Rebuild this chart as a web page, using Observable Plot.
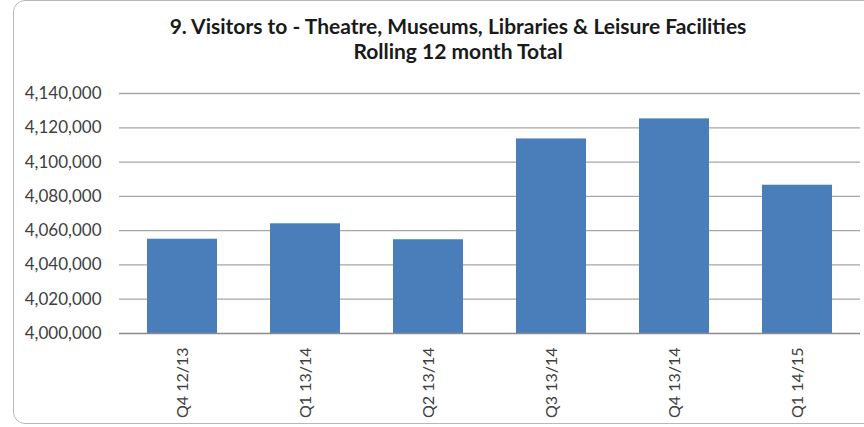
<!DOCTYPE html>
<html>
<head>
<meta charset="utf-8">
<script src="https://cdn.jsdelivr.net/npm/d3@7"></script>
<script src="https://cdn.jsdelivr.net/npm/@observablehq/plot@0.6"></script>
<style>
  html, body { margin: 0; padding: 0; background: #fff; }
  #wrap { position: relative; width: 864px; height: 427px; overflow: hidden; font-family: Lato, "Open Sans", sans-serif; }
  #frame { position: absolute; left: 13px; top: 0px; width: 880px; height: 424px; border: 1px solid #b8b8b8; border-radius: 12px; box-sizing: border-box; }
  #title { position: absolute; left: 0; top: 13px; width: 916px; text-align: center; font-weight: bold; font-size: 21px; line-height: 25px; color: #1a1a1a; }
  #chart { position: absolute; left: 0; top: 0; }
</style>
</head>
<body>
<div id="wrap">
  <div id="frame"></div>
  <div id="title">9. Visitors to - Theatre, Museums, Libraries &amp; Leisure Facilities<br>Rolling 12 month Total</div>
  <div id="chart"></div>
</div>
<script>
const categories = ["Q4 12/13", "Q1 13/14", "Q2 13/14", "Q3 13/14", "Q4 13/14", "Q1 14/15"];
const visitors = [4055000, 4064000, 4054700, 4113500, 4125200, 4086500];
const yTicks = [4000000, 4020000, 4040000, 4060000, 4080000, 4100000, 4120000, 4140000];

const data = categories.map((c, i) => ({category: c, value: visitors[i]}));
const fmt = d3.format(",");

const chart = Plot.plot({
  width: 864,
  height: 427,
  marginLeft: 119,
  marginRight: 4,
  marginTop: 93,
  marginBottom: 94,
  style: {fontFamily: "Lato, 'Open Sans', sans-serif", fontSize: "16px", color: "#404040", background: "transparent"},
  x: {domain: categories, paddingInner: 0.433, paddingOuter: 0.2167, label: null},
  y: {domain: [4000000, 4140000], ticks: yTicks, label: null},
  marks: [
    Plot.gridY(yTicks.slice(1), {stroke: "#a6a6a6", strokeOpacity: 1, strokeWidth: 1.3}),
    Plot.barY(data, {x: "category", y1: 4000000, y2: "value", fill: "#4a7ebb"}),
    Plot.ruleY([4000000], {stroke: "#8c8c8c", strokeWidth: 1.6}),
    Plot.axisY(yTicks, {tickSize: 0, tickPadding: 18, tickFormat: fmt, fill: "#404040", fontSize: 17}),
    Plot.axisX({tickSize: 0, tickPadding: 14, tickRotate: -90, fill: "#404040", fontSize: 16})
  ]
});
document.getElementById("chart").appendChild(chart);
</script>
</body>
</html>
